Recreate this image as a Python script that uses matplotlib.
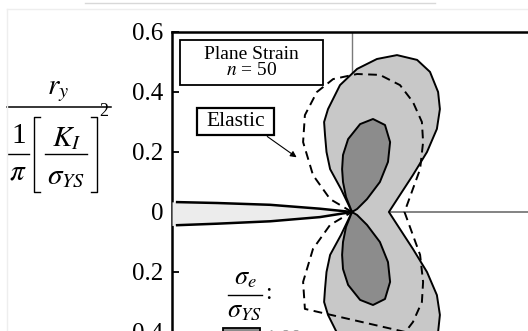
import numpy as np
import matplotlib
matplotlib.use('Agg')
import matplotlib.pyplot as plt
from matplotlib.patches import Polygon, Rectangle

plt.rcParams['font.family'] = ['Liberation Serif', 'DejaVu Serif']
plt.rcParams['mathtext.fontset'] = 'stix'

# upper half of each zone (x, y in units of (1/pi)(K/sYS)^2)
# outer plastic zone: crack tip -> round the top lobe -> waist on the x axis
outer_x = [0, -0.037, -0.073, -0.085, -0.09, -0.093, -0.08, -0.04, 0.017, 0.083,
           0.15, 0.217, 0.26, 0.287, 0.293, 0.283, 0.25, 0.203, 0.16, 0.123]
outer_y = [0, 0.077, 0.143, 0.2, 0.257, 0.3, 0.343, 0.423, 0.477, 0.51,
           0.523, 0.507, 0.467, 0.4, 0.343, 0.277, 0.2, 0.123, 0.057, 0]

# inner zone (darker), one lobe
inner_x = [0, -0.02, -0.03, -0.033, -0.03, -0.013, 0.027, 0.07, 0.11, 0.127,
           0.12, 0.093, 0.05, 0.017, 0]
inner_y = [0, 0.05, 0.1, 0.143, 0.19, 0.243, 0.293, 0.31, 0.29, 0.233,
           0.167, 0.1, 0.043, 0.01, 0]

# elastic zone (dashed)
elastic_x = [0, -0.073, -0.13, -0.163, -0.157, -0.117, -0.063, 0.017, 0.093, 0.16,
             0.203, 0.233, 0.237, 0.227, 0.203, 0.175]
elastic_y = [0, 0.043, 0.123, 0.233, 0.323, 0.4, 0.443, 0.46, 0.457, 0.423,
             0.367, 0.3, 0.233, 0.143, 0.077, 0]

# crack faces
crack_x = [-0.6, -0.583, -0.45, -0.273, -0.107, 0]
crack_top = [0.034, 0.033, 0.03, 0.024, 0.011, 0]
crack_bot = [-0.045, -0.044, -0.039, -0.031, -0.017, 0]

yticks = [-0.4, -0.2, 0, 0.2, 0.4, 0.6]
ytick_labels = ['0.4', '0.2', '0', '0.2', '0.4', '0.6']


def mirrored(xs, ys):
    # full closed outline: upper half then the lower half back to the start
    pts = list(zip(xs, ys))
    low = [(x, -y) for x, y in zip(xs[::-1], ys[::-1])]
    return np.array(pts + low[1:])


fig = plt.figure(figsize=(5.28, 3.31), dpi=100)
ax = fig.add_axes([172 / 528, 1 - 32 / 331 - 360 / 331, 360 / 528, 360 / 331])
ax.set_xlim(-0.6, 0.6)
ax.set_ylim(-0.6, 0.6)

# reference lines through the crack tip
ax.axhline(0, color='#7a7a7a', lw=1.3, zorder=1)
ax.axvline(0, color='#7a7a7a', lw=1.0, zorder=1)

ax.add_patch(Polygon(mirrored(outer_x, outer_y), closed=True, fc='#c8c8c8',
                     ec='black', lw=1.4, joinstyle='round', zorder=2))
for sgn in (1, -1):
    pts = np.column_stack([inner_x, np.array(inner_y) * sgn])
    ax.add_patch(Polygon(pts, closed=True, fc='#8c8c8c', ec='black', lw=1.4,
                         joinstyle='round', zorder=3))
el = mirrored(elastic_x, elastic_y)
ax.plot(np.append(el[:, 0], el[0, 0]), np.append(el[:, 1], el[0, 1]),
        color='black', lw=1.4, ls=(0, (4.5, 2.8)), zorder=4)

ax.fill_between(crack_x, crack_bot, crack_top, color='#ececec', lw=0, zorder=4)
ax.plot(crack_x[1:], crack_top[1:], color='black', lw=1.8, zorder=5)
ax.plot(crack_x[1:], crack_bot[1:], color='black', lw=1.8, zorder=5)

for s in ('right', 'bottom'):
    ax.spines[s].set_visible(False)
for s in ('left', 'top'):
    ax.spines[s].set_linewidth(1.8)
ax.set_xticks([])
ax.set_yticks(yticks)
ax.set_yticklabels(ytick_labels)
ax.tick_params(axis='y', direction='in', length=5, width=1.3, pad=6,
               labelsize=18)

# boxes
ax.add_patch(Rectangle((-0.573, 0.423), 0.476, 0.15, fc='white', ec='black',
                       lw=1.3, zorder=6))
ax.text(-0.335, 0.498, 'Plane Strain\n$n$ = 50', ha='center', va='center',
        fontsize=14, linespacing=0.95, zorder=7)
ax.add_patch(Rectangle((-0.517, 0.257), 0.257, 0.09, fc='white', ec='black',
                       lw=1.6, zorder=6))
ax.text(-0.388, 0.302, 'Elastic', ha='center', va='center', fontsize=15.5,
        zorder=7)
ax.annotate('', xy=(-0.177, 0.177), xytext=(-0.29, 0.257),
            arrowprops=dict(arrowstyle='-|>', color='black', lw=0.8,
                            mutation_scale=9), zorder=7)

# legend fragment: sigma_e / sigma_YS key
ax.text(-0.357, -0.223, r'$\sigma_e$', ha='center', va='center', fontsize=19,
        zorder=7)
ax.plot([-0.413, -0.3], [-0.277, -0.277], color='black', lw=1.0, zorder=7)
ax.text(-0.357, -0.333, r'$\sigma_{YS}$', ha='center', va='center',
        fontsize=19, zorder=7)
ax.text(-0.28, -0.272, ':', ha='center', va='center', fontsize=17, zorder=7)
ax.add_patch(Rectangle((-0.43, -0.45), 0.123, 0.063, fc='#8c8c8c', ec='black',
                       lw=1.3, zorder=6))
ax.text(-0.29, -0.393, '1.00', ha='left', va='top', fontsize=15,
        color='#909090', zorder=7)

# y label drawn as a stacked fraction, in pixel coordinates
lab = fig.add_axes([0, 0, 1, 1], zorder=-1)
lab.set_xlim(0, 528)
lab.set_ylim(331, 0)
lab.axis('off')
lab.text(58, 91, r'$r_y$', ha='center', va='center', fontsize=21)
lab.plot([7, 111], [107, 107], color='black', lw=1.1)
lab.text(19, 136, '1', ha='center', va='center', fontsize=21)
lab.plot([8, 29], [154, 154], color='black', lw=1.0)
lab.text(18, 172, r'$\pi$', ha='center', va='center', fontsize=21)
lab.plot([40, 34, 34, 40], [117, 117, 192, 192], color='black', lw=1.0)
lab.text(67, 139, r'$K_I$', ha='center', va='center', fontsize=21)
lab.plot([45, 87], [154, 154], color='black', lw=1.0)
lab.text(66, 177, r'$\sigma_{YS}$', ha='center', va='center', fontsize=21)
lab.plot([91, 97, 97, 91], [117, 117, 192, 192], color='black', lw=1.0)
lab.text(104, 112, '2', ha='center', va='center', fontsize=13)

# faint scan border
lab.plot([85, 435], [3, 3], color='#d8d8d8', lw=1)
lab.plot([7, 528], [9, 9], color='#eeeeee', lw=1)
lab.plot([7, 7], [9, 331], color='#eeeeee', lw=1)

fig.savefig('out.png', dpi=100)
